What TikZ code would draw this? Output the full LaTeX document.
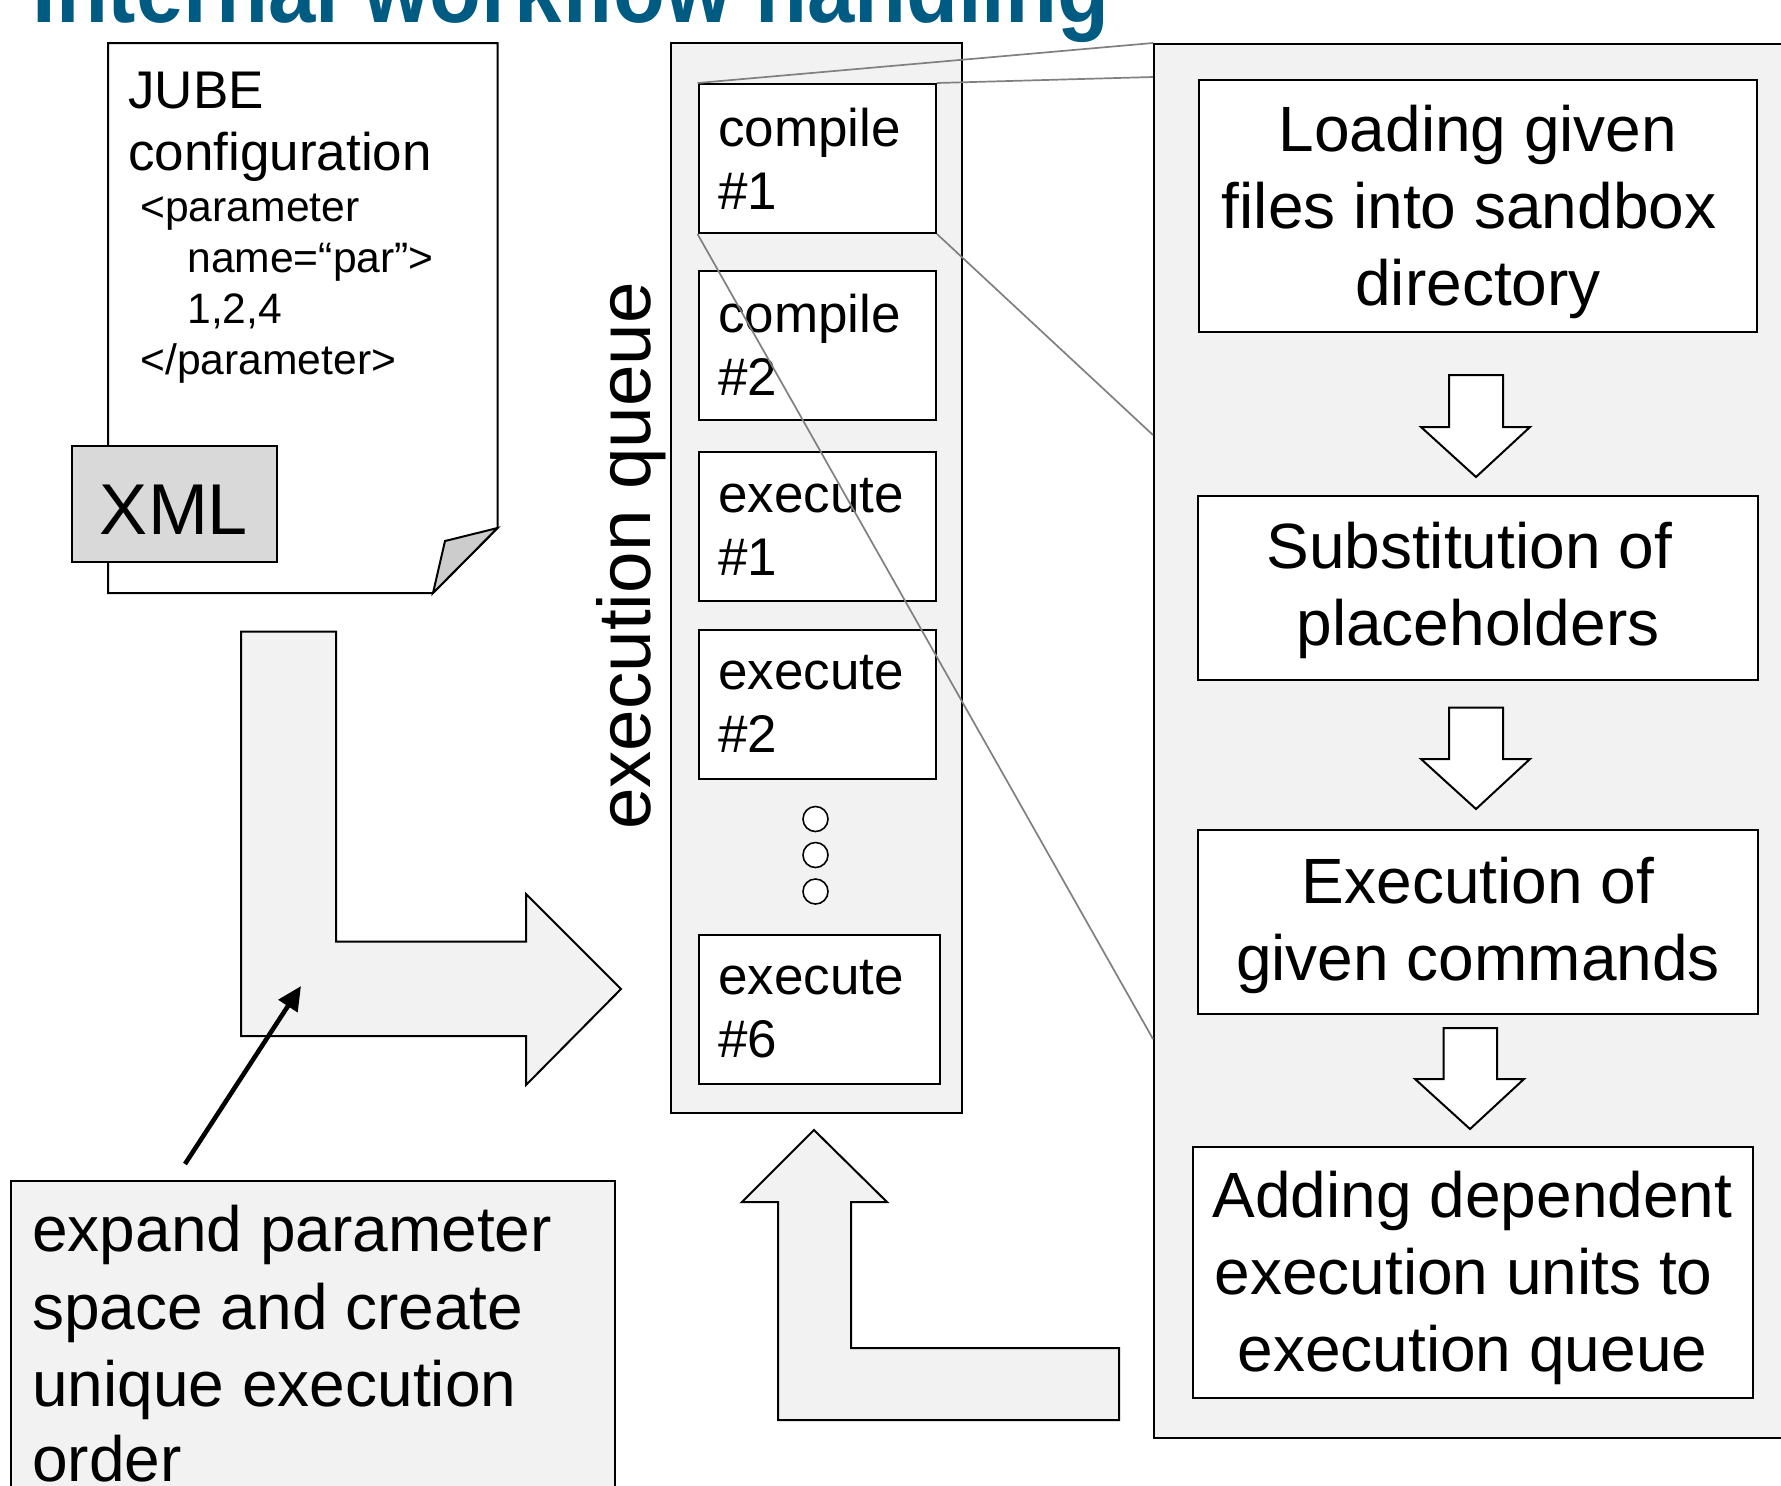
\documentclass[tikz,border=0pt]{standalone}
\usepackage{fontspec}
\setmainfont{Liberation Sans}
\newfontfamily\titlefont{Liberation Sans}[FakeStretch=0.895]
\usetikzlibrary{arrows.meta}
\definecolor{panel}{HTML}{F2F2F2}
\definecolor{tabgrey}{HTML}{D9D9D9}
\definecolor{foldgrey}{HTML}{CCCCCC}
\definecolor{titleblue}{HTML}{005B82}
\definecolor{zoomgrey}{HTML}{808080}
\begin{document}
\begin{tikzpicture}[x=0.5pt,y=-0.5pt,line join=miter]
\tikzset{
  outline/.style={draw=black,line width=1pt},
  panelbox/.style={outline,fill=panel,inner sep=0},
  qbox/.style={outline,fill=white,minimum width=118.75pt,minimum height=74.5pt,inner sep=0,
    text width=99pt,align=left,font=\fontsize{26.5}{31.5}\selectfont},
  rbox/.style={outline,fill=white,inner sep=0},
  rtext/.style={inner sep=0,align=center,font=\fontsize{32}{38.5}\selectfont},
  xmlline/.style={anchor=base west,inner sep=0,font=\fontsize{21.3}{25}\selectfont},
  bigline/.style={anchor=base west,inner sep=0,font=\fontsize{32}{38}\selectfont},
  zoomline/.style={draw=zoomgrey,line width=0.85pt},
  hollowarrow/.style={outline,fill=white},
  bigarrow/.style={outline,fill=panel},
  dotc/.style={circle,draw=black,line width=0.8pt,fill=white,minimum size=12.5pt,inner sep=0}
}
\useasboundingbox (0,0) rectangle (1781,1485);
\clip (0,0) rectangle (1781,1485);
\fill[white] (0,0) rectangle (1781,1485);

% title
\node[anchor=base west,inner sep=0,text=titleblue,font=\titlefont\bfseries\fontsize{47.5}{57}\selectfont] (title) at (32,22) {Internal workflow handling};

% XML document
\coordinate (pNW) at (108,43);
\coordinate (pNE) at (497.5,43);
\coordinate (pF1) at (497.5,528);
\coordinate (pF2) at (433,593);
\coordinate (pFi) at (445,541);
\coordinate (pSW) at (108,593);
\draw[outline,fill=white] (pNW) -- (pNE) -- (pF1) -- (pF2) -- (pSW) -- cycle;
\draw[outline,fill=foldgrey] (pF1) -- (pFi) -- (pF2) -- cycle;
\node[anchor=base west,inner sep=0,font=\fontsize{26.5}{31}\selectfont] (jube1) at (128,108) {JUBE};
\node[anchor=base west,inner sep=0,font=\fontsize{26.5}{31}\selectfont] (jube2) at (128,170) {configuration};
\node[xmlline] (x1) at (140,221.5) {<parameter};
\node[xmlline] (x2) at (187,272.6) {name=“par”>};
\node[xmlline] (x3) at (187,323.7) {1,2,4};
\node[xmlline] (x4) at (140,374.8) {</parameter>};
\draw[outline,fill=tabgrey] (72,446) rectangle (277,562);
\node[anchor=base,inner sep=0,font=\fontsize{36}{43}\selectfont] (xml) at (174,534) {XML};

% L-shaped big arrow
\draw[bigarrow] (241,631.5) -- (336,631.5) -- (336,941.6) -- (526,941.6) -- (526,894)
  -- (621,989) -- (526,1085) -- (526,1036) -- (241,1036) -- cycle;

% expand box
\draw[outline,fill=panel] (11,1181) rectangle (614.5,1520);
\node[bigline] (e1) at (32,1251) {expand parameter};
\node[bigline] (e2) at (32,1329) {space and create};
\node[bigline] (e3) at (32,1406) {unique execution};
\node[bigline] (e4) at (32,1481) {order};
\coordinate (ptrS) at (185,1164);
\coordinate (ptrE) at (301,986);
\draw[line width=2.3pt,-{Triangle[length=12pt,width=11pt]}] (ptrS) -- (ptrE);

% execution queue
\node[panelbox,minimum width=145.5pt,minimum height=535pt] (queue) at (816.5,578) {};
\node[rotate=90,anchor=base,inner sep=0,font=\fontsize{37.3}{44}\selectfont] (eqlabel) at (650,556) {execution queue};
\node[qbox] (c1) at (817.25,158.5) {compile\\\#1};
\node[qbox] (c2) at (817.25,345) {compile\\\#2};
\node[qbox] (x1b) at (817.25,526.5) {execute\\\#1};
\node[qbox] (x2b) at (817.25,704) {execute\\\#2};
\node[dotc] (d1) at (815.5,819) {};
\node[dotc] (d2) at (815.5,855) {};
\node[dotc] (d3) at (815.5,891.5) {};
\node[qbox,minimum width=120.75pt,text width=101pt] (x6) at (819.25,1009) {execute\\\#6};

% U arrow back to queue
\draw[bigarrow] (1119,1348) -- (851,1348) -- (851,1202) -- (887,1202) -- (814,1130)
  -- (742,1202) -- (778,1202) -- (778,1420) -- (1119,1420) -- cycle;

% right panel
\node[panelbox,minimum width=340pt,minimum height=697pt,anchor=north west] (detail) at (1153,43) {};
\coordinate (dA) at (1153,77);
\coordinate (dB) at (1153,435);
\coordinate (dC) at (1153,1039);
\node[rbox,minimum width=279pt,minimum height=126.25pt] (load) at (1478,205.75) {};
\node[rbox,minimum width=280pt,minimum height=92pt] (subst) at (1478,588) {};
\node[rbox,minimum width=280pt,minimum height=92pt] (exec) at (1478,922) {};
\node[rbox,minimum width=280pt,minimum height=125.5pt] (add) at (1472.5,1272.5) {};
\node[rtext] (loadT) at (1478,212) {Loading given\\files into sandbox\kern0.278em\\directory};
\node[rtext] (substT) at (1478,590) {Substitution of\kern0.278em\\placeholders};
\node[rtext] (execT) at (1478,925) {Execution of\\given commands};
\node[rtext] (addT) at (1472.5,1277.5) {Adding dependent\\execution units to\kern0.278em\\execution queue};

% hollow down arrows
\draw[hollowarrow] (1449,375) -- (1503,375) -- (1503,427) -- (1530,427) -- (1476,477) -- (1421,427) -- (1449,427) -- cycle;
\draw[hollowarrow] (1449,707.6) -- (1503,707.6) -- (1503,759) -- (1530,759) -- (1476,809) -- (1421,759) -- (1449,759) -- cycle;
\draw[hollowarrow] (1443.5,1028) -- (1497,1028) -- (1497,1079) -- (1524,1079) -- (1470,1129) -- (1415,1079) -- (1443.5,1079) -- cycle;

% zoom lines
\draw[zoomline] (c1.north west) -- (detail.north west);
\draw[zoomline] (c1.north east) -- (dA);
\draw[zoomline] (c1.south east) -- (dB);
\draw[zoomline] (c1.south west) -- (dC);
\end{tikzpicture}
\end{document}
